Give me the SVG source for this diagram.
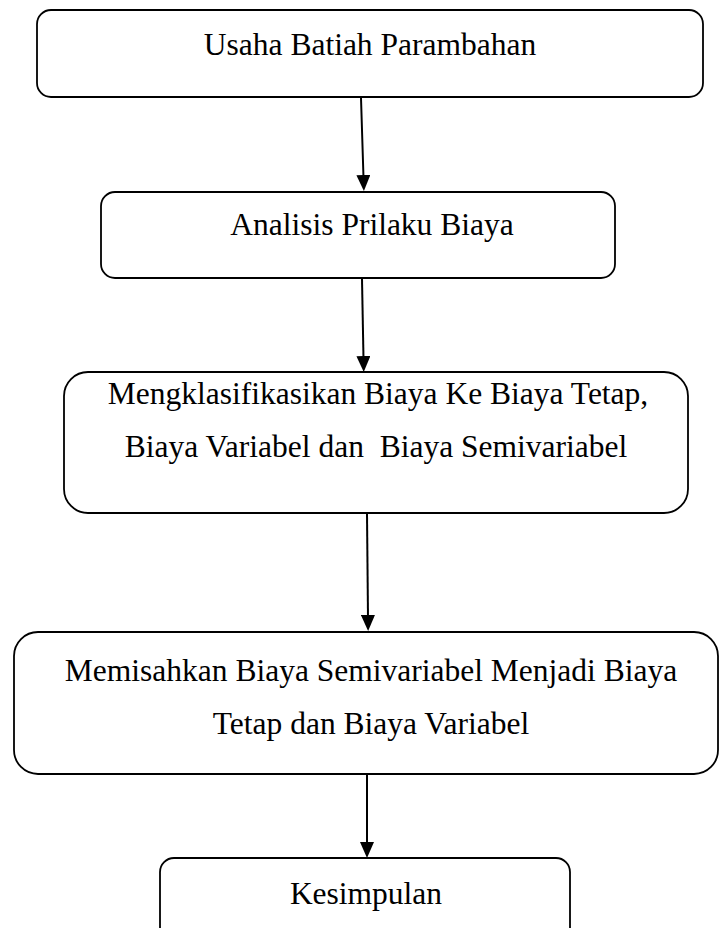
<svg xmlns="http://www.w3.org/2000/svg" width="719" height="928" viewBox="0 0 719 928">
<defs>
<marker id="arr" viewBox="0 0 16 14" refX="3" refY="7" markerWidth="16" markerHeight="14" markerUnits="userSpaceOnUse" orient="auto">
<path d="M0,0 L16,7 L0,14 Z" fill="#000"/>
</marker>
<style>
.box{fill:#fff;stroke:#000;stroke-width:1.8}
.t{font-family:"Liberation Serif","Times New Roman",serif;font-size:31.5px;fill:#000;text-anchor:middle}
.c{stroke:#000;stroke-width:2;fill:none}
</style>
</defs>
<rect width="719" height="928" fill="#fff"/>
<g id="connectors">
<line class="c" x1="361" y1="98" x2="363.5" y2="178" marker-end="url(#arr)"/>
<line class="c" x1="362" y1="279" x2="363.5" y2="359" marker-end="url(#arr)"/>
<line class="c" x1="367" y1="514" x2="368" y2="618" marker-end="url(#arr)"/>
<line class="c" x1="367" y1="775" x2="367" y2="845" marker-end="url(#arr)"/>
</g>
<g id="n1">
<rect class="box" x="37" y="10" width="666" height="87" rx="14"/>
<text class="t" x="370" y="55">Usaha Batiah Parambahan</text>
</g>
<g id="n2">
<rect class="box" x="101" y="192" width="514" height="86" rx="14"/>
<text class="t" x="372" y="235">Analisis Prilaku Biaya</text>
</g>
<g id="n3">
<rect class="box" x="64" y="372" width="624" height="141" rx="24"/>
<text class="t" x="378" y="404">Mengklasifikasikan Biaya Ke Biaya Tetap,</text>
<text class="t" x="376" y="457" xml:space="preserve">Biaya Variabel dan  Biaya Semivariabel</text>
</g>
<g id="n4">
<rect class="box" x="14" y="632" width="704" height="142" rx="24"/>
<text class="t" x="371" y="681">Memisahkan Biaya Semivariabel Menjadi Biaya</text>
<text class="t" x="371" y="734">Tetap dan Biaya Variabel</text>
</g>
<g id="n5">
<rect class="box" x="160" y="858" width="410" height="90" rx="14"/>
<text class="t" x="366" y="904">Kesimpulan</text>
</g>
</svg>
